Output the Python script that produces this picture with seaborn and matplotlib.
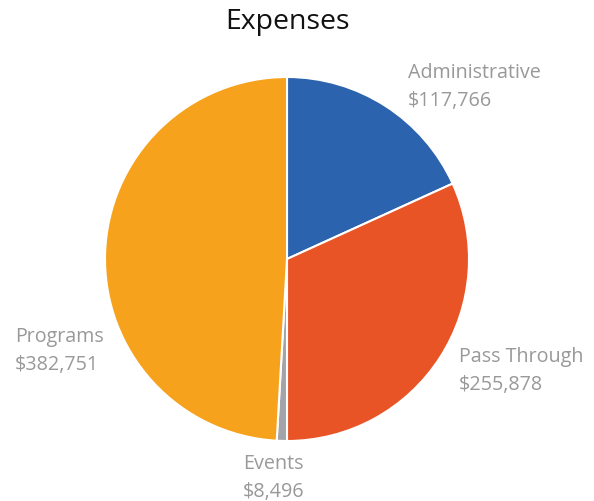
import matplotlib
matplotlib.use("Agg")
import matplotlib.pyplot as plt
import seaborn as sns

# 数据
categories = ["Administrative", "Pass Through", "Events", "Programs"]
amounts = [117766, 255878, 8496, 382751]
# 扇区比例（按原图扇区角度估读，%）
slice_shares = [18.2, 31.8, 0.9, 49.1]
slice_colors = ["#2b63ae", "#e85425", "#a3a3aa", "#f6a21c"]

sns.set_theme(style="white")
plt.rcParams["font.family"] = ["Open Sans", "DejaVu Sans"]

fig = plt.figure(figsize=(5.94, 5.01), dpi=100)
ax = fig.add_axes([0, 0, 1, 1])

ax.pie(
    slice_shares, colors=slice_colors, startangle=90, counterclock=False,
    center=(287, 242), radius=182, frame=True,
    wedgeprops={"linewidth": 1.5, "edgecolor": "white"},
)
ax.set_xlim(0, 594)
ax.set_ylim(0, 501)
ax.axis("off")

# 标签位置（像素，y 向上）
label_pos = {
    "Administrative": (408, 414),
    "Pass Through": (459, 130),
    "Events": (243, 23),
    "Programs": (15, 150),
}
for name, val in zip(categories, amounts):
    x, y = label_pos[name]
    ax.text(x, y, f"{name}\n${val:,}", ha="left", va="center", fontsize=14.2,
            color="#999999", linespacing=1.5)

ax.text(287, 479, "Expenses", ha="center", va="center", fontsize=20.5, color="#111111")

plt.savefig("out.png", dpi=100)
plt.close()
